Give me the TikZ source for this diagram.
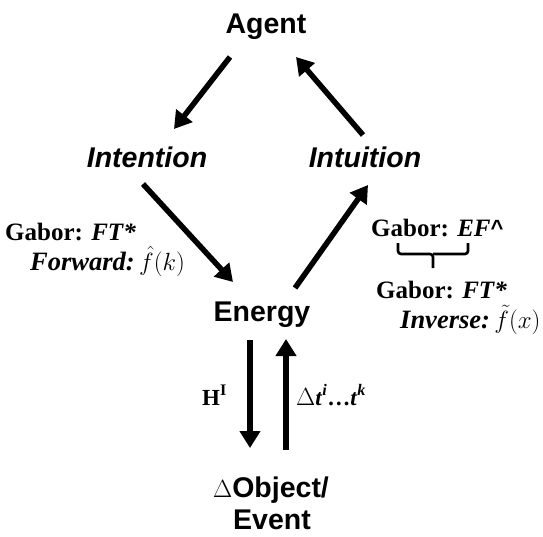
\documentclass[tikz,border=0pt]{standalone}
\usepackage{fontspec}
\setmainfont{Liberation Serif}
\setsansfont{Liberation Sans}
\usetikzlibrary{arrows.meta}
\begin{document}
\begin{tikzpicture}[x=1pt,y=-1pt,
  big/.style={inner sep=0pt,anchor=base,font=\sffamily\bfseries\fontsize{28.5}{30}\selectfont},
  bigit/.style={big,font=\sffamily\bfseries\itshape\fontsize{28.5}{30}\selectfont},
  lab/.style={inner sep=0pt,anchor=base west,font=\rmfamily\bfseries\fontsize{25}{26}\selectfont},
  labit/.style={inner sep=0pt,anchor=base west,font=\rmfamily\bfseries\itshape\fontsize{26.5}{28}\selectfont},
  small/.style={inner sep=0pt,anchor=base west,font=\rmfamily\bfseries\fontsize{23}{25}\selectfont},
  arr/.style={line width=5.5pt,-{Triangle[length=17pt,width=20pt]}},
  bracestyle/.style={line width=2.6pt,rounded corners=3pt}]
\useasboundingbox (0,0) rectangle (543,536);
\node[big] (agent) at (266,33) {Agent};
\node[bigit] (intention) at (147,167) {Intention};
\node[bigit] (intuition) at (365,167) {Intuition};
\node[big] (energy) at (262,321) {Energy};
\node[big] (object) at (271,497) {$\Delta$Object/};
\node[big] (event) at (272,529) {Event};
% labels
\node[lab] (gab1) at (5,240) {Gabor: \textit{FT*}};
\node[labit] (fwd) at (30,270) {Forward:\,\upshape\fontsize{31}{32}\selectfont$\hat{f}(k)$};
\node[lab] (gab2) at (371,236) {Gabor: \textit{EF}\raisebox{1pt}{\sffamily\bfseries\fontsize{22}{24}\selectfont\textasciicircum}};
\node[lab] (gab3) at (376,298) {Gabor: \textit{FT*}};
\node[labit] (inv) at (400,328) {Inverse:\,\upshape\fontsize{31}{32}\selectfont$\tilde{f}(x)$};
\node[small] (hi) at (202,405) {H\textsuperscript{I}};
\node[small] (dt) at (296,405) {$\Delta$\textit{t}\textsuperscript{\textit{i}}\ldots\textit{t}\textsuperscript{\textit{k}}};
% brace
\draw[bracestyle] (398,243) -- (398,254) -- (433,254) -- (433,268);
\draw[bracestyle] (468,243) -- (468,254) -- (433,254);
% arrows
\draw[arr] ([xshift=-36pt,yshift=-24pt]agent.base) -- ([xshift=27pt,yshift=38pt]intention.base);
\draw[arr] ([xshift=-2pt,yshift=32pt]intuition.base) -- ([xshift=30pt,yshift=-24pt]agent.base);
\draw[arr] ([xshift=-4pt,yshift=-17pt]intention.base) -- ([xshift=-29pt,yshift=39pt]energy.base);
\draw[arr] ([xshift=33pt,yshift=33pt]energy.base) -- ([xshift=3pt,yshift=-18pt]intuition.base);
\draw[arr] ([xshift=-12pt,yshift=-19pt]energy.base) -- ([xshift=-21pt,yshift=49pt]object.base);
\draw[arr] ([xshift=15pt,yshift=47pt]object.base) -- ([xshift=24pt,yshift=-18pt]energy.base);
\end{tikzpicture}
\end{document}
